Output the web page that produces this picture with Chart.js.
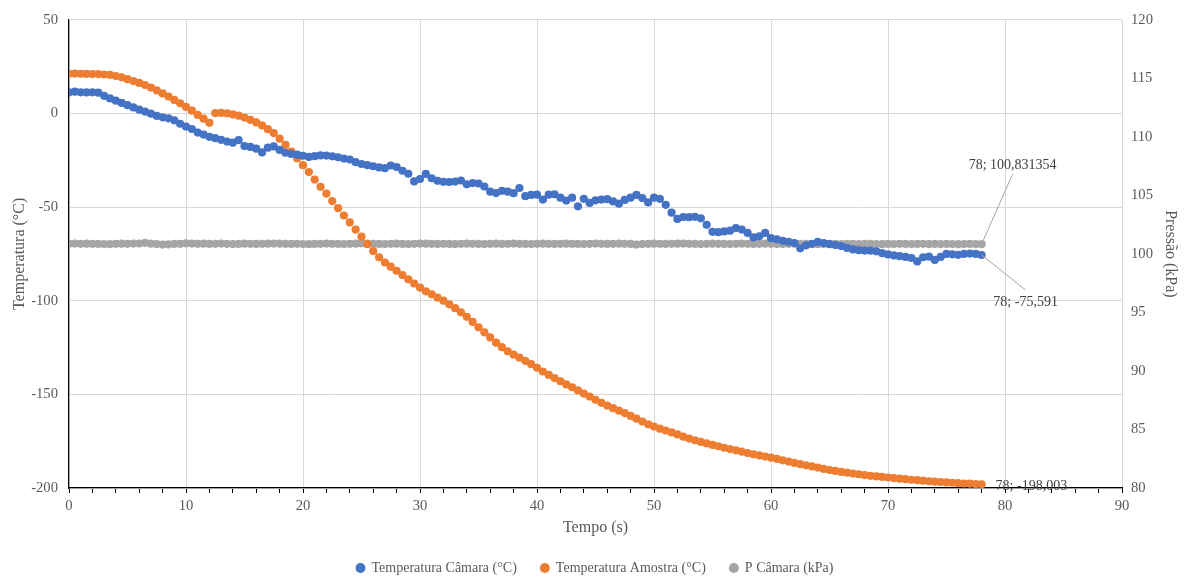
<!DOCTYPE html>
<html>
<head>
<meta charset="utf-8">
<script src="https://cdn.jsdelivr.net/npm/chart.js@4/dist/chart.umd.min.js"></script>
<style>
  html, body { margin: 0; padding: 0; background: #fff; }
  #wrap { width: 1185px; height: 579px; position: relative; }
</style>
</head>
<body>
<div id="wrap"><canvas id="chart"></canvas></div>
<script>
// tempo (s), one reading every 0.5 s
const tempo = [
  0, 0.5, 1, 1.5, 2, 2.5, 3, 3.5, 4, 4.5,
  5, 5.5, 6, 6.5, 7, 7.5, 8, 8.5, 9, 9.5,
  10, 10.5, 11, 11.5, 12, 12.5, 13, 13.5, 14, 14.5,
  15, 15.5, 16, 16.5, 17, 17.5, 18, 18.5, 19, 19.5,
  20, 20.5, 21, 21.5, 22, 22.5, 23, 23.5, 24, 24.5,
  25, 25.5, 26, 26.5, 27, 27.5, 28, 28.5, 29, 29.5,
  30, 30.5, 31, 31.5, 32, 32.5, 33, 33.5, 34, 34.5,
  35, 35.5, 36, 36.5, 37, 37.5, 38, 38.5, 39, 39.5,
  40, 40.5, 41, 41.5, 42, 42.5, 43, 43.5, 44, 44.5,
  45, 45.5, 46, 46.5, 47, 47.5, 48, 48.5, 49, 49.5,
  50, 50.5, 51, 51.5, 52, 52.5, 53, 53.5, 54, 54.5,
  55, 55.5, 56, 56.5, 57, 57.5, 58, 58.5, 59, 59.5,
  60, 60.5, 61, 61.5, 62, 62.5, 63, 63.5, 64, 64.5,
  65, 65.5, 66, 66.5, 67, 67.5, 68, 68.5, 69, 69.5,
  70, 70.5, 71, 71.5, 72, 72.5, 73, 73.5, 74, 74.5,
  75, 75.5, 76, 76.5, 77, 77.5, 78
];

const tempCamara = [
  11.2, 11.6, 11.3, 11.2, 11.3, 11.1, 9.4, 8.0, 6.8, 5.6,
  4.4, 3.2, 2.0, 1.0, -0.1, -1.3, -2.1, -2.6, -3.7, -5.5,
  -7.0, -8.3, -10.2, -11.3, -12.5, -13.2, -14.1, -15.0, -15.6, -14.2,
  -17.4, -17.9, -18.8, -20.8, -18.3, -17.6, -19.5, -21.0, -21.6, -22.0,
  -22.6, -23.2, -22.8, -22.4, -22.5, -22.9, -23.4, -24.1, -24.6, -26.0,
  -27.0, -27.6, -28.2, -28.8, -29.2, -27.8, -28.6, -30.6, -32.2, -36.3,
  -35.0, -32.3, -34.6, -36.0, -36.5, -36.6, -36.4, -35.8, -37.8, -37.2,
  -37.4, -39.0, -41.8, -42.5, -41.3, -41.8, -42.6, -39.8, -44.2, -43.5,
  -43.4, -46.0, -43.4, -43.2, -45.0, -46.5, -45.0, -49.6, -45.6, -47.8,
  -46.4, -46.0, -45.8, -47.0, -48.2, -46.2, -45.0, -43.5, -45.2, -47.5,
  -45.0, -45.6, -48.8, -53.0, -56.3, -55.3, -55.4, -55.2, -56.0, -59.5,
  -63.2, -63.4, -63.0, -62.6, -61.2, -62.0, -63.8, -66.2, -65.6, -63.8,
  -66.6, -67.2, -68.0, -68.5, -69.2, -72.0, -70.4, -69.6, -68.6, -69.2,
  -69.8, -70.3, -70.8, -71.8, -72.6, -73.0, -73.2, -73.3, -73.6, -74.6,
  -75.3, -75.8, -76.2, -76.6, -77.2, -79.0, -76.8, -76.5, -78.2, -76.6,
  -75.0, -75.2, -75.5, -75.0, -74.8, -75.0, -75.591
];

const tempAmostra = [
  21.2, 21.3, 21.2, 21.1, 21.0, 21.0, 20.8, 20.6, 20.0, 19.3,
  18.3, 17.3, 16.3, 15.2, 13.8, 12.3, 10.7, 9.0, 7.2, 5.4,
  3.5, 1.5, -0.8, -2.8, -5.0, 0.2, 0.3, 0.1, -0.5, -1.2,
  -2.2, -3.4, -4.8, -6.4, -8.4, -10.5, -13.5, -16.8, -20.4, -24.0,
  -27.6, -31.3, -35.3, -39.2, -42.8, -46.8, -50.6, -54.5, -58.2, -62.0,
  -65.8, -69.8, -73.5, -76.8, -79.6, -81.8, -84.0, -86.3, -88.6, -90.8,
  -93.0, -95.0, -96.6, -98.3, -100.0, -101.9, -104.0, -106.2, -108.6, -111.3,
  -114.2, -116.9, -119.6, -122.4, -124.8, -127.0, -128.8, -130.4, -132.1, -133.9,
  -135.8, -137.8, -139.6, -141.3, -143.0, -144.7, -146.2, -147.9, -149.6, -151.2,
  -152.9, -154.5, -156.0, -157.4, -158.7, -160.0, -161.5, -163.0, -164.5, -166.0,
  -167.2, -168.3, -169.3, -170.3, -171.4, -172.6, -173.6, -174.5, -175.4, -176.2,
  -177.0, -177.7, -178.5, -179.2, -179.9, -180.6, -181.3, -182.0, -182.6, -183.2,
  -183.8, -184.5, -185.2, -185.9, -186.6, -187.3, -187.9, -188.5, -189.1, -189.8,
  -190.4, -190.9, -191.4, -191.8, -192.3, -192.7, -193.1, -193.5, -193.8, -194.1,
  -194.4, -194.7, -195.0, -195.3, -195.6, -195.8, -196.1, -196.4, -196.6, -196.8,
  -197.0, -197.2, -197.4, -197.6, -197.7, -197.9, -198.003
];

const pCamara = [
  100.87, 100.88, 100.86, 100.87, 100.86, 100.85, 100.84, 100.83, 100.86, 100.87,
  100.86, 100.88, 100.89, 100.95, 100.87, 100.84, 100.80, 100.82, 100.85, 100.86,
  100.90, 100.88, 100.86, 100.87, 100.85, 100.86, 100.88, 100.86, 100.84, 100.85,
  100.87, 100.86, 100.85, 100.86, 100.87, 100.88, 100.87, 100.86, 100.85, 100.86,
  100.84, 100.83, 100.85, 100.86, 100.88, 100.86, 100.85, 100.84, 100.86, 100.87,
  100.90, 100.88, 100.86, 100.85, 100.84, 100.86, 100.87, 100.85, 100.84, 100.86,
  100.88, 100.87, 100.86, 100.85, 100.86, 100.85, 100.84, 100.86, 100.87, 100.86,
  100.85, 100.84, 100.86, 100.87, 100.85, 100.86, 100.88, 100.86, 100.85, 100.84,
  100.86, 100.87, 100.86, 100.85, 100.86, 100.87, 100.86, 100.85, 100.84, 100.86,
  100.88, 100.86, 100.85, 100.86, 100.87, 100.86, 100.85, 100.80, 100.84, 100.86,
  100.87, 100.86, 100.85, 100.86, 100.87, 100.88, 100.86, 100.85, 100.84, 100.86,
  100.87, 100.86, 100.85, 100.84, 100.86, 100.87, 100.86, 100.85, 100.86, 100.87,
  100.86, 100.85, 100.84, 100.86, 100.87, 100.85, 100.86, 100.84, 100.83, 100.85,
  100.86, 100.85, 100.84, 100.86, 100.85, 100.84, 100.86, 100.85, 100.84, 100.83,
  100.85, 100.84, 100.86, 100.85, 100.84, 100.85, 100.86, 100.84, 100.85, 100.84,
  100.85, 100.84, 100.83, 100.84, 100.85, 100.84, 100.831354
];

const serieNomes = ['Temperatura Câmara (°C)', 'Temperatura Amostra (°C)', 'P Câmara (kPa)'];
const serieCores = ['#4472C4', '#ED7D31', '#A5A5A5'];

const FONT = "'Liberation Serif', 'Times New Roman', serif";
const TXT = '#595959';

const toPoints = ys => tempo.map((t, i) => ({ x: t, y: ys[i] }));

// label of the last point of each series, Excel style "x; y"
const endLabels = {
    id: 'endLabels',
    afterDatasetsDraw(chart) {
        const ctx = chart.ctx;
        const specs = [
            { ds: 0, lx: 44, ly: 35, tx: 44, ty: 47, align: 'center' },
            { ds: 1, lx: 0, ly: 0, tx: 14, ty: 2, align: 'left' },
            { ds: 2, lx: 31, ly: -70, tx: 31, ty: -79, align: 'center' }
        ];
        ctx.save();
        ctx.font = '14px ' + FONT;
        ctx.textBaseline = 'middle';
        specs.forEach(s => {
            const meta = chart.getDatasetMeta(s.ds);
            const pt = meta.data[meta.data.length - 1];
            const raw = chart.data.datasets[s.ds].data[meta.data.length - 1];
            if (s.lx || s.ly) {
                ctx.strokeStyle = '#A6A6A6';
                ctx.lineWidth = 1;
                ctx.beginPath();
                ctx.moveTo(pt.x, pt.y);
                ctx.lineTo(pt.x + s.lx, pt.y + s.ly);
                ctx.stroke();
            }
            ctx.fillStyle = '#404040';
            ctx.textAlign = s.align;
            const txt = raw.x + '; ' + String(raw.y).replace('.', ',');
            ctx.fillText(txt, pt.x + s.tx, pt.y + s.ty);
        });
        ctx.restore();
    }
};

new Chart(document.getElementById('chart'), {
    type: 'scatter',
    data: {
        datasets: [tempCamara, tempAmostra, pCamara].map((ys, i) => ({
            label: serieNomes[i],
            data: toPoints(ys),
            yAxisID: i === 2 ? 'y2' : 'y',
            backgroundColor: serieCores[i],
            borderColor: serieCores[i],
            pointRadius: 4.1,
            pointBorderWidth: 0,
            showLine: false
        }))
    },
    options: {
        responsive: true,
        maintainAspectRatio: false,
        animation: false,
        layout: { padding: { top: 18, left: 6, right: 1, bottom: -6 } },
        plugins: {
            tooltip: { enabled: false },
            legend: {
                position: 'bottom',
                labels: {
                    usePointStyle: true,
                    boxWidth: 8,
                    boxHeight: 7,
                    padding: 24,
                    color: TXT,
                    font: { family: FONT, size: 14 }
                }
            }
        },
        scales: {
            x: {
                type: 'linear',
                min: 0,
                max: 90,
                afterFit: s => { s.height = 49; },
                border: { color: '#000', width: 1.2 },
                grid: {
                    color: c => (c.tick && c.tick.value % 10 === 0) ? '#D9D9D9' : 'rgba(0,0,0,0)',
                    tickColor: '#000',
                    tickLength: 5
                },
                ticks: {
                    stepSize: 2,
                    autoSkip: false,
                    maxRotation: 0,
                    padding: 4,
                    color: TXT,
                    font: { family: FONT, size: 14.67 },
                    callback: v => v % 10 === 0 ? v : ''
                },
                title: {
                    display: true,
                    text: 'Tempo (s)',
                    color: TXT,
                    padding: { top: 0, bottom: 0 },
                    font: { family: FONT, size: 16 }
                }
            },
            y: {
                position: 'left',
                min: -200,
                max: 50,
                afterFit: s => { s.width = 63; },
                border: { color: '#000', width: 1.2 },
                grid: { color: '#D9D9D9', drawTicks: false },
                ticks: {
                    stepSize: 50,
                    padding: 11,
                    color: TXT,
                    font: { family: FONT, size: 14.67 }
                },
                title: {
                    display: true,
                    text: 'Temperatura (°C)',
                    color: TXT,
                    font: { family: FONT, size: 16 }
                }
            },
            y2: {
                position: 'right',
                min: 80,
                max: 120,
                afterFit: s => { s.width = 62; },
                border: { display: false },
                grid: { drawOnChartArea: false, drawTicks: false },
                ticks: {
                    stepSize: 5,
                    padding: 9,
                    color: TXT,
                    font: { family: FONT, size: 14.67 }
                },
                title: {
                    display: true,
                    text: 'Pressão (kPa)',
                    color: TXT,
                    font: { family: FONT, size: 16 }
                }
            }
        }
    },
    plugins: [endLabels]
});
</script>
</body>
</html>
